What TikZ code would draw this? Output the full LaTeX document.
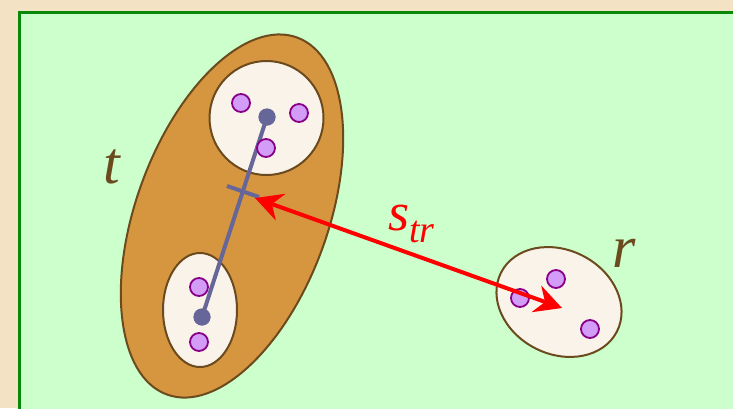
\documentclass[tikz,border=0pt]{standalone}
\usepackage{fontspec}
\setmainfont{Liberation Serif}
\usetikzlibrary{arrows.meta}
\definecolor{parch}{HTML}{F3E3C4}
\definecolor{greenbg}{HTML}{CCFFCC}
\definecolor{greenline}{HTML}{0A880A}
\definecolor{ochre}{HTML}{D69640}
\definecolor{brownline}{HTML}{6B4A1E}
\definecolor{cream}{HTML}{FAF3EA}
\definecolor{lilac}{HTML}{D29CF7}
\definecolor{plum}{HTML}{880088}
\definecolor{slate}{HTML}{666699}
\tikzset{
  outerblob/.style={fill=ochre, draw=brownline, line width=2pt},
  innerblob/.style={fill=cream, draw=brownline, line width=2pt},
  pdot/.style={circle, fill=lilac, draw=plum, line width=1.8pt, minimum size=18pt, inner sep=0pt},
  cdot/.style={circle, fill=slate, draw=none, minimum size=17pt, inner sep=0pt},
  linkline/.style={draw=slate, line width=4pt},
  distarrow/.style={draw=red, line width=4pt, {Stealth[length=27pt,width=28pt,inset=9pt]}-{Stealth[length=27pt,width=28pt,inset=9pt]}},
  lbl/.style={text=brownline, font=\fontsize{60}{62}\selectfont\itshape, inner sep=0pt},
}
\begin{document}
\begin{tikzpicture}[x=1pt,y=-1pt]
\useasboundingbox (0,0) rectangle (733,408);
\fill[parch] (0,0) rectangle (733,408);
\fill[greenbg] (19.5,12.5) rectangle (745,420);
\draw[greenline, line width=3.5pt] (19.5,420) -- (19.5,12.5) -- (745,12.5);

% cluster t
\draw[outerblob] (232,216) ellipse [x radius=190, y radius=96, rotate=70];
\draw[innerblob] (266.5,118) circle [radius=57];
\draw[innerblob] (200,310) ellipse [x radius=37, y radius=57];

% cluster r
\draw[innerblob] (559,302) ellipse [x radius=65, y radius=52, rotate=-27];

% link between cluster centres
\node[cdot] (c1) at (267,117) {};
\node[cdot] (c2) at (202,317) {};
\draw[linkline] (c1.center) -- (c2.center);

% points
\node[pdot] (p1) at (241,103) {};
\node[pdot] (p2) at (299,113) {};
\node[pdot] (p3) at (266,148) {};
\node[pdot] (p4) at (199,287) {};
\node[pdot] (p5) at (199,342) {};
\node[pdot] (p6) at (520,298) {};
\node[pdot] (p7) at (556,279) {};
\node[pdot] (p8) at (590,329) {};

\node[cdot] (c1b) at (267,117) {};
\node[cdot] (c2b) at (202,317) {};

% midpoint tick
\coordinate (k1) at (227,186);
\coordinate (k2) at (259,197);
\draw[draw=slate, line width=4pt] (k1) -- (k2);

% distance arrow
\coordinate (a1) at (255,198);
\coordinate (a2) at (562,308);
\draw[distarrow] (a1) -- (a2);

% labels
\node[lbl, anchor=base] (lt) at (112,183) {t};
\node[lbl, anchor=base] (lr) at (624,267) {r};
\node[text=red, font=\fontsize{54}{56}\selectfont\itshape, inner sep=0pt, anchor=base west] (ls) at (388,230) {s\raisebox{-12pt}{\fontsize{38}{40}\selectfont tr}};
\end{tikzpicture}
\end{document}
